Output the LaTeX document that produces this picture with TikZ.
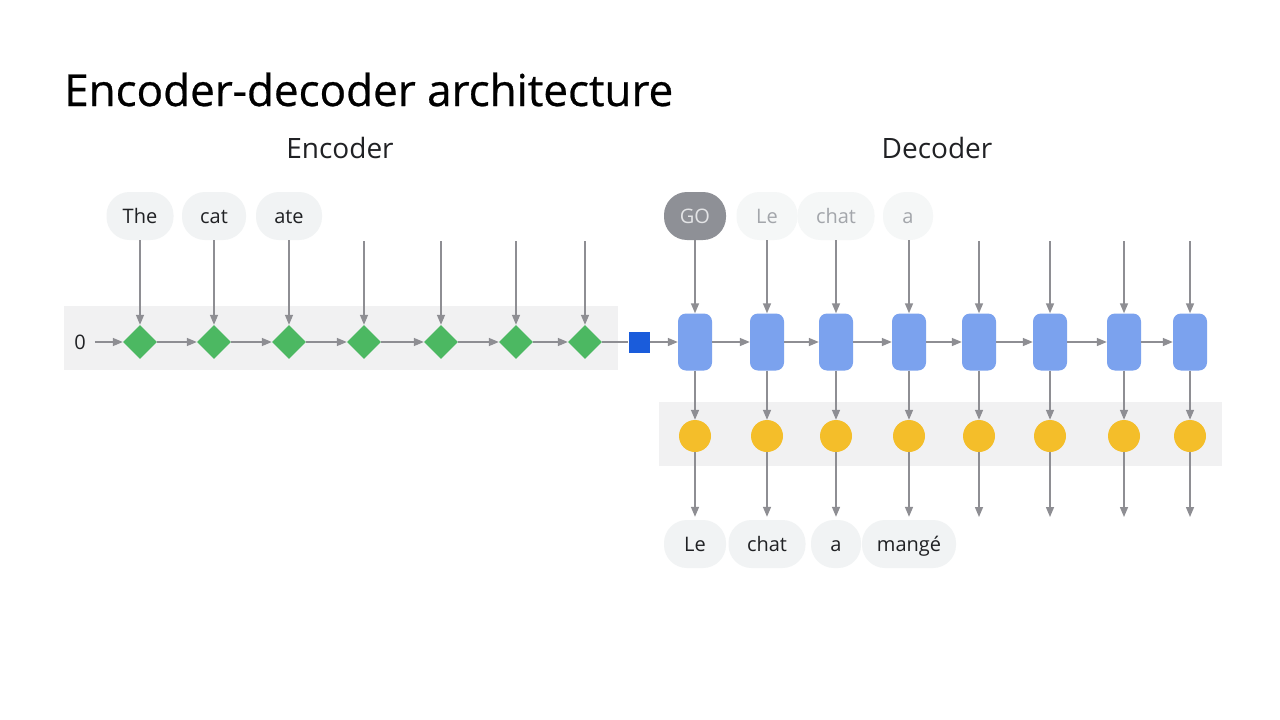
\documentclass[tikz,border=0pt]{standalone}
\usepackage{fontspec}
\setmainfont{Open Sans}
\newfontfamily\titlefont[FakeBold=0.6]{Open Sans}
\usetikzlibrary{arrows.meta,shapes.geometric}

\definecolor{tokfill}{HTML}{F1F3F4}
\definecolor{bandfill}{HTML}{F1F1F2}
\definecolor{arrowgray}{HTML}{8E8E93}
\definecolor{encgreen}{HTML}{4CB862}
\definecolor{decblue}{HTML}{7BA2EE}
\definecolor{ctxblue}{HTML}{1A5CDB}
\definecolor{outyellow}{HTML}{F4BE2A}
\definecolor{gofill}{HTML}{8E9096}
\definecolor{gotext}{HTML}{E3E4E6}
\definecolor{fadetext}{HTML}{A3A6AB}
\definecolor{inktext}{HTML}{202124}

\tikzset{
  plainline/.style={draw=arrowgray, line width=1.5pt},
  flow/.style={plainline, -{Triangle[length=10pt,width=8pt]}},
  token/.style={rectangle, rounded corners=23pt, fill=tokfill, minimum height=48pt,
    inner sep=0pt, text height=15pt, text depth=0pt, text=inktext,
    font=\fontsize{20}{20}\selectfont},
  fadedtoken/.style={token, fill=tokfill!70, text=fadetext},
  gotoken/.style={token, fill=gofill, text=gotext},
  enccell/.style={diamond, fill=encgreen, minimum width=34pt, minimum height=34pt, inner sep=0pt},
  deccell/.style={rectangle, rounded corners=8pt, fill=decblue, minimum width=34pt,
    minimum height=57pt, inner sep=0pt},
  outcell/.style={circle, fill=outyellow, minimum size=32pt, inner sep=0pt},
  ctxcell/.style={rectangle, fill=ctxblue, minimum size=21pt, inner sep=0pt},
  heading/.style={font=\fontsize{28}{28}\selectfont, text=inktext, anchor=base, inner sep=0pt}
}

\begin{document}
\begin{tikzpicture}[x=1pt,y=-1pt]
\useasboundingbox[fill=white] (0,0) rectangle (1280,720);

% shaded bands behind the encoder row and the output layer
\fill[bandfill] (64,306) rectangle (618,370);
\fill[bandfill] (659,402) rectangle (1222,466);

% titles
\node[anchor=base west, inner sep=0pt, text=black, font=\titlefont\fontsize{44}{44}\selectfont]
  (title) at (64,106) {Encoder-decoder architecture};
\node[heading] (enclabel) at (340,158) {Encoder};
\node[heading] (declabel) at (937,158) {Decoder};

% encoder cells
\foreach \x [count=\i] in {140,214,289,364,441,516,585} {
  \node[enccell] (e\i) at (\x,342) {};
  \coordinate (ein\i) at (\x,241);
}

% encoder input tokens
\node[token, minimum width=67pt] (tThe) at (140,216) {The};
\node[token, minimum width=64pt] (tcat) at (214,216) {cat};
\node[token, minimum width=66pt] (tate) at (289,216) {ate};

\draw[flow] (tThe.south) -- (e1.north);
\draw[flow] (tcat.south) -- (e2.north);
\draw[flow] (tate.south) -- (e3.north);
\foreach \i in {4,...,7} {
  \draw[flow] (ein\i) -- (e\i.north);
}

% initial state and recurrence along the encoder
\node[inner sep=0pt, text=inktext, font=\fontsize{20}{20}\selectfont] (zero) at (80,342) {0};
\draw[flow] ([xshift=9pt]zero.east) -- (e1.west);
\foreach \i [evaluate=\i as \j using int(\i+1)] in {1,...,6} {
  \draw[flow] (e\i.east) -- (e\j.west);
}

% context vector
\node[ctxcell] (ctx) at (639,342) {};
\draw[plainline] (e7.east) -- (ctx.west);

% decoder cells and outputs
\foreach \x [count=\i] in {695,767,836,909,979,1050,1124,1190} {
  \node[deccell] (d\i) at (\x,342) {};
  \node[outcell] (y\i) at (\x,436) {};
  \coordinate (din\i) at (\x,241);
  \coordinate (dout\i) at (\x,517);
}
\draw[flow] (ctx.east) -- (d1.west);
\foreach \i [evaluate=\i as \j using int(\i+1)] in {1,...,7} {
  \draw[flow] (d\i.east) -- (d\j.west);
}

% decoder input tokens
\node[gotoken, minimum width=62pt] (go) at (695,216) {GO};
\node[fadedtoken, minimum width=61pt] (iLe) at (767,216) {Le};
\node[fadedtoken, minimum width=77pt] (ichat) at (836,216) {chat};
\node[fadedtoken, minimum width=50pt] (ia) at (908,216) {a};

\draw[flow] (go.south) -- (d1.north);
\draw[flow] (iLe.south) -- (d2.north);
\draw[flow] (ichat.south) -- (d3.north);
\draw[flow] (ia.south -| d4) -- (d4.north);
\foreach \i in {5,...,8} {
  \draw[flow] (din\i) -- (d\i.north);
}

% cell to output layer
\foreach \i in {1,...,8} {
  \draw[flow] (d\i.south) -- (y\i.north);
}

% output tokens
\node[token, minimum width=62pt] (oLe) at (695,544) {Le};
\node[token, minimum width=77pt] (ochat) at (767,544) {chat};
\node[token, minimum width=50pt] (oa) at (836,544) {a};
\node[token, minimum width=94pt] (omange) at (909,544) {mangé};

\draw[flow, shorten >=3pt] (y1.south) -- (oLe.north);
\draw[flow, shorten >=3pt] (y2.south) -- (ochat.north);
\draw[flow, shorten >=3pt] (y3.south) -- (oa.north);
\draw[flow, shorten >=3pt] (y4.south) -- (omange.north);
\foreach \i in {5,...,8} {
  \draw[flow] (y\i.south) -- (dout\i);
}
\end{tikzpicture}
\end{document}
